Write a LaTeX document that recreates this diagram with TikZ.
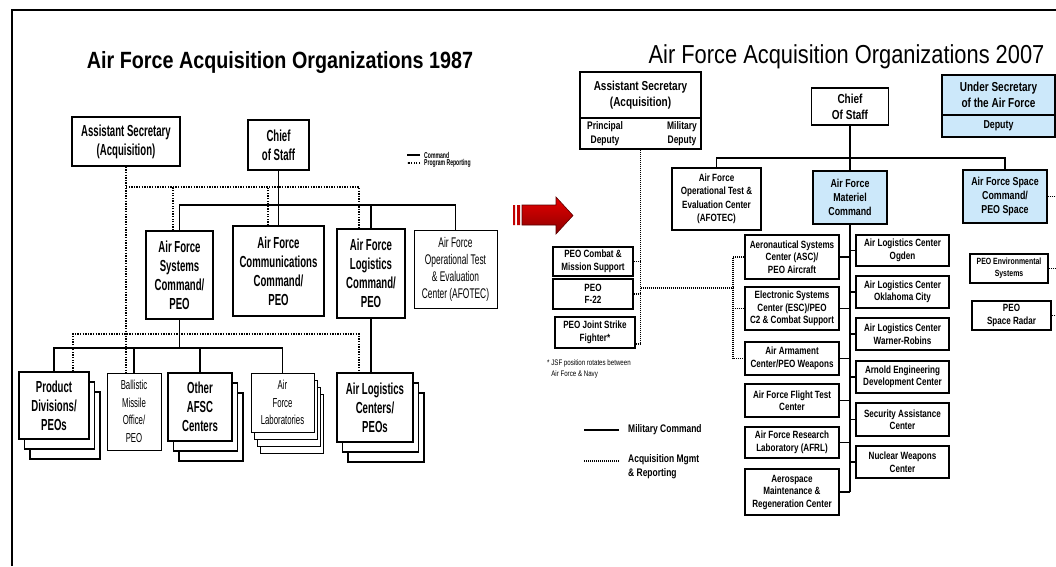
\documentclass[tikz,border=0pt]{standalone}
\usepackage{fontspec}
\setmainfont{Liberation Sans}
\newfontfamily\oldorgfont{Liberation Sans}[FakeStretch=0.6]
\newfontfamily\neworgfont{Liberation Sans}[FakeStretch=0.77]
\newfontfamily\titlefont{Liberation Sans}[FakeStretch=0.84]
\usetikzlibrary{shadows,positioning}
\definecolor{afblue}{HTML}{CCE8FA}
\definecolor{arrowred}{HTML}{C00000}

\begin{document}
\begin{tikzpicture}[
        x=1pt, y=-1pt,
        box size/.style 2 args={minimum width=#1, minimum height=#2},
        old box/.style={draw, line width=1.6pt, fill=white, inner sep=0pt, align=center,
                font=\oldorgfont\bfseries\fontsize{16}{19}\selectfont},
        old thin/.style={old box, line width=1pt, font=\oldorgfont\fontsize{13}{17.5}\selectfont},
        two copies/.style={copy shadow={shadow xshift=11pt, shadow yshift=-20pt},
                copy shadow={shadow xshift=5.5pt, shadow yshift=-10pt}},
        three copies/.style={copy shadow={shadow xshift=9pt, shadow yshift=-21pt},
                copy shadow={shadow xshift=6pt, shadow yshift=-14pt},
                copy shadow={shadow xshift=3pt, shadow yshift=-7pt}},
        new box/.style={draw, line width=1.1pt, fill=white, inner sep=0pt, align=center,
                font=\neworgfont\bfseries\fontsize{10.5}{12.5}\selectfont},
        big/.style={font=\neworgfont\bfseries\fontsize{13}{16}\selectfont},
        blue box/.style={new box, fill=afblue, font=\neworgfont\bfseries\fontsize{11.5}{14}\selectfont},
        deputy/.style={inner sep=0pt, align=center, font=\neworgfont\bfseries\fontsize{11}{14.5}\selectfont},
        cmd/.style={line width=1.6pt},
        prog/.style={line width=1.5pt, dash pattern=on 1.3pt off 1.3pt},
        new cmd/.style={line width=1.3pt},
        new prog/.style={line width=1.1pt, dash pattern=on 1pt off 1pt},
        legend old/.style={inner sep=0pt, font=\oldorgfont\bfseries\fontsize{8.5}{10}\selectfont},
        legend new/.style={inner sep=0pt, align=left, font=\neworgfont\bfseries\fontsize{11}{14}\selectfont},
    ]
    \useasboundingbox (0,0) rectangle (1056,566);
    \draw[line width=2pt] (12,566) -- (12,10) -- (1056,10);

    % 1987
    \node[anchor=base, font=\titlefont\bfseries\fontsize{23.5}{28}\selectfont] (title1) at (280,68)
        {Air Force Acquisition Organizations 1987};

    \node[old box, box size={108pt}{49pt}] (asec1) at (126,141.5) {Assistant Secretary\\(Acquisition)};
    \node[old box, box size={61pt}{50pt}] (cos1) at (278.5,145) {Chief\\of Staff};

    \node[old box, box size={67pt}{88pt}] (afsc) at (179.5,275) {Air Force\\Systems\\Command/\\PEO};
    \node[old box, box size={91pt}{90pt}] (afcc) at (278.5,271) {Air Force\\Communications\\Command/\\PEO};
    \node[old box, box size={68pt}{89pt}] (aflc) at (371,273.5) {Air Force\\Logistics\\Command/\\PEO};
    \node[old thin, box size={83pt}{78pt}, font=\oldorgfont\fontsize{14}{17}\selectfont] (afotec1) at (455.5,269)
        {Air Force\\Operational Test\\\& Evaluation\\Center (AFOTEC)};

    \node[old box, two copies, box size={70pt}{67pt}] (pdiv) at (54,405.5) {Product\\Divisions/\\PEOs};
    \node[old thin, box size={54pt}{77pt}] (bmo) at (134,411.5) {Ballistic\\Missile\\Office/\\PEO};
    \node[old box, two copies, box size={64pt}{68pt}] (oafsc) at (200,407) {Other\\AFSC\\Centers};
    \node[old thin, three copies, box size={63pt}{59pt}] (labs) at (282.5,402.5) {Air\\Force\\Laboratories};
    \node[old box, two copies, box size={76pt}{69pt}] (alcs) at (375,407.5) {Air Logistics\\Centers/\\PEOs};

    \coordinate (bar1) at (278.5,205);
    \coordinate (bar2) at (179.5,348);
    \draw[cmd] (cos1) -- (afcc);
    \draw[cmd] (afsc.north) |- (bar1) -| (afotec1.north);
    \draw[cmd] (aflc.north) -- (aflc.north |- bar1);
    \draw[cmd] (afsc.south) -- (bar2);
    \draw[cmd] (pdiv.north) |- (bar2) -| (labs.north);
    \draw[cmd] (bmo.north) -- (bmo.north |- bar2);
    \draw[cmd] (oafsc.north) -- (oafsc.north |- bar2);
    \draw[cmd] (aflc.south) -- (aflc.south |- alcs.north);

    \coordinate (rep1) at (126,187);
    \coordinate (rep2) at (359,334);
    \draw[prog] (asec1.south) -- (asec1.south |- bmo.north);
    \draw[prog] (rep1) -| ([xshift=-12pt]aflc.north);
    \draw[prog] ([xshift=-6.5pt]afsc.north) -- ([xshift=-6.5pt]afsc.north |- rep1);
    \draw[prog] ([xshift=-10.5pt]afcc.north) -- ([xshift=-10.5pt]afcc.north |- rep1);
    \draw[prog] ([xshift=19pt]pdiv.north) |- (rep2) -- ([xshift=-16pt]alcs.north);

    \coordinate (lg1) at (420,155);
    \coordinate (lg2) at (420,163);
    \draw[cmd] (lg1) -- ++(-13,0);
    \draw[prog] (lg2) -- ++(-13,0);
    \node[legend old, right=4pt of lg1] (lgcmd) {Command};
    \node[legend old, right=4pt of lg2] (lgrep) {Program Reporting};

    % the change arrow
    \fill[arrowred] (513,205) rectangle (515,225) (517,205) rectangle (520,225);
    \draw[line width=0.6pt, draw=red!35!black, top color=red!90!black, bottom color=red!55!black]
        (522,205) -- (556,205) -- (556,197) -- (573,215.5) -- (556,234) -- (556,225) -- (522,225) -- cycle;

    % 2007
    \node[anchor=base, font=\titlefont\fontsize{26}{30}\selectfont] (title2) at (846.5,63)
        {Air Force Acquisition Organizations 2007};

    \node[new box, big, box size={121pt}{46pt}] (asec2) at (640.5,95) {Assistant Secretary\\(Acquisition)};
    \node[new box, box size={121pt}{31pt}] (asec2dep) at (640.5,133.5) {};
    \node[deputy] (pdep) at (605,133.5) {Principal\\Deputy};
    \node[deputy] (mdep) at (682,133.5) {Military\\Deputy};

    \node[new box, big, box size={77pt}{37pt}] (cos2) at (850,106.5) {Chief\\Of Staff};
    \node[blue box, big, box size={113pt}{40pt}] (usaf) at (998.5,95) {Under Secretary\\of the Air Force};
    \node[blue box, box size={113pt}{22pt}] (usafdep) at (998.5,126) {Deputy};

    \node[new box, box size={89pt}{62pt}, font=\neworgfont\bfseries\fontsize{10.5}{13.5}\selectfont] (afotec2) at (716.5,199)
        {Air Force\\Operational Test \&\\Evaluation Center\\(AFOTEC)};
    \node[blue box, box size={74pt}{53pt}] (amc) at (850,197.5) {Air Force\\Materiel\\Command};
    \node[blue box, box size={84pt}{53pt}] (afspc) at (1005,196.5) {Air Force Space\\Command/\\PEO Space};

    \coordinate (bar3) at (850,158);
    \draw[new cmd] (cos2) -- (amc);
    \draw[new cmd] (afotec2.north) |- (bar3) -| (afspc.north);

    % centres under the Materiel Command
    \foreach \nm/\yy/\hh/\txt in {
            asc/257/44/{Aeronautical Systems\\Center (ASC)/\\PEO Aircraft},
            esc/308.5/43/{Electronic Systems\\Center (ESC)/PEO\\C2 \& Combat Support},
            aac/358.5/33/{Air Armament\\Center/PEO Weapons},
            afftc/400.5/33/{Air Force Flight Test\\Center},
            afrl/442.5/31/{Air Force Research\\Laboratory (AFRL)},
            amarc/492/46/{Aerospace\\Maintenance \&\\Regeneration Center}%
        } {
            \node[new box, box size={94pt}{\hh pt}] (\nm) at (792,\yy) {\txt};
            \draw[new cmd] (\nm.east) -- (\nm.east -| amc.south);
        }
    \foreach \nm/\yy/\hh/\txt in {
            ogden/250.5/31/{Air Logistics Center\\Ogden},
            okc/292/32/{Air Logistics Center\\Oklahoma City},
            wr/334/32/{Air Logistics Center\\Warner-Robins},
            aedc/377/32/{Arnold Engineering\\Development Center},
            sac/419.5/33/{Security Assistance\\Center},
            nwc/462/32/{Nuclear Weapons\\Center}%
        } {
            \node[new box, box size={93pt}{\hh pt}] (\nm) at (902.5,\yy) {\txt};
            \draw[new cmd] (\nm.west) -- (\nm.west -| amc.south);
        }
    \draw[new cmd] (amc.south) -- (amc.south |- amarc.east);

    \node[new box, box size={80pt}{29pt}] (pcms) at (593,261.5) {PEO Combat \&\\Mission Support};
    \node[new box, box size={80pt}{30pt}] (pf22) at (593,294) {PEO\\F-22};
    \node[new box, box size={80pt}{31pt}] (pjsf) at (595,332.5) {PEO Joint Strike\\Fighter*};
    \node[anchor=north west, inner sep=0pt, align=left, font=\neworgfont\fontsize{8}{11}\selectfont] (jsfnote)
        at (547,359) {* JSF position rotates between\\\hphantom{*} Air Force \& Navy};

    \node[new box, box size={78pt}{29pt}, font=\neworgfont\bfseries\fontsize{9}{12}\selectfont] (pes) at (1009,268.5)
        {PEO Environmental\\Systems};
    \node[new box, box size={79pt}{29pt}] (psr) at (1011.5,315.5) {PEO\\Space Radar};

    \coordinate (jsfend) at ([yshift=-11.5pt]pjsf.east);
    \coordinate (rep3) at (733,288);
    \coordinate (rim) at (1056,0);
    \draw[new prog] (asec2dep.south) -- (asec2dep.south |- jsfend);
    \draw[new prog] (pcms.east) -- (pcms.east -| asec2dep.south);
    \draw[new prog] (pf22.east) -- (pf22.east -| asec2dep.south);
    \draw[new prog] (jsfend) -- (jsfend -| asec2dep.south);
    \draw[new prog] (asec2dep.south |- rep3) -- (rep3);
    \draw[new prog] (asc.west) -| (rep3 |- aac.west) -- (aac.west);
    \draw[new prog] (esc.west) -- (esc.west -| rep3);
    \draw[new prog] (afspc.east) -- (afspc.east -| rim);
    \draw[new prog] (pes.east) -- (pes.east -| rim);
    \draw[new prog] (psr.east) -- (psr.east -| rim);

    \coordinate (lg3) at (619,430);
    \coordinate (lg4) at (619,461);
    \draw[cmd] (lg3) -- ++(-35,0);
    \draw[new prog] (lg4) -- ++(-35,0);
    \node[legend new, right=9pt of lg3] (lgmil) {Military Command};
    \node[legend new, anchor=north west] (lgacq) at ([xshift=9pt,yshift=7pt]lg4) {Acquisition Mgmt\\\& Reporting};
\end{tikzpicture}
\end{document}
